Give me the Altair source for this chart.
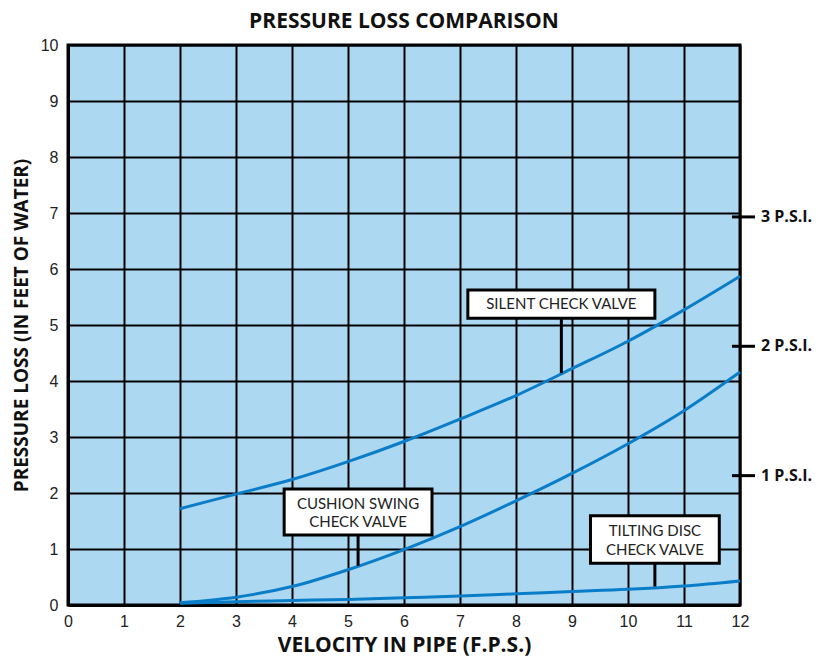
import altair as alt
import pandas as pd

# ---- data ----
velocity = [2, 3, 4, 5, 6, 7, 8, 9, 10, 11, 12]
silent = [1.72, 1.98, 2.24, 2.56, 2.92, 3.32, 3.74, 4.22, 4.71, 5.27, 5.87]
cushion = [0.04, 0.14, 0.33, 0.63, 0.99, 1.40, 1.86, 2.35, 2.88, 3.47, 4.16]
tilting = [0.03, 0.06, 0.08, 0.10, 0.13, 0.16, 0.20, 0.24, 0.28, 0.34, 0.43]

x_ticks = list(range(0, 13))
y_ticks = list(range(0, 11))

psi_values = [2.31, 4.62, 6.93]
psi_labels = ["1 P.S.I.", "2 P.S.I.", "3 P.S.I."]

# annotation boxes (data units)
box_x1 = [7.14, 3.86, 9.33]
box_x2 = [10.48, 6.50, 11.63]
box_y1 = [5.12, 1.25, 0.745]
box_y2 = [5.625, 2.07, 1.595]
lead_x = [8.81, 5.18, 10.48]
lead_y1 = [5.12, 1.25, 0.745]
lead_y2 = [4.14, 0.70, 0.33]

# annotation text lines
line_text = ["SILENT CHECK VALVE", "CUSHION SWING", "CHECK VALVE", "TILTING DISC", "CHECK VALVE"]
line_x = [8.81, 5.18, 5.18, 10.48, 10.48]
line_y = [5.37, 1.81, 1.49, 1.32, 0.99]

BG = "#ADD8F2"
LINE = "#0A7DC8"
TITLE_FONT = "Open Sans"

rows = []
for name, ys in [("Silent", silent), ("Cushion", cushion), ("Tilting", tilting)]:
    for v, p in zip(velocity, ys):
        rows.append({"series": name, "v": v, "p": p})
lines_df = pd.DataFrame(rows)

box_df = pd.DataFrame({
    "bx1": box_x1, "bx2": box_x2, "by1": box_y1, "by2": box_y2,
    "lx": lead_x, "ly1": lead_y1, "ly2": lead_y2,
})
text_df = pd.DataFrame({"text": line_text, "x": line_x, "y": line_y})
psi_df = pd.DataFrame({"y": psi_values, "label": psi_labels})

xscale = alt.Scale(domain=[0, 12], nice=False, zero=False)
yscale = alt.Scale(domain=[0, 10], nice=False, zero=False)

common_axis = dict(grid=True, gridColor="black", gridWidth=2, gridOpacity=1, ticks=False,
                   labelFont="Liberation Sans", labelFontSize=16, labelColor="#222",
                   domainColor="black", domainWidth=3, format="d",
                   titleFont=TITLE_FONT, titleFontWeight="bold",
                   titleColor="#111", labelFlush=False, titleBaseline="alphabetic")

xaxis = alt.Axis(values=x_ticks, title="VELOCITY IN PIPE (F.P.S.)", labelPadding=8,
                 titleY=46, titleFontSize=21, **common_axis)
yaxis = alt.Axis(values=y_ticks, title="PRESSURE LOSS (IN FEET OF WATER)", labelPadding=10,
                 titleX=-41, titleY=280, titleAlign="center", titleAngle=-90,
                 titleFontSize=19, **common_axis)

curves = alt.Chart(lines_df).mark_line(color=LINE, strokeWidth=3, interpolate="monotone").encode(
    x=alt.X("v:Q", scale=xscale, axis=xaxis),
    y=alt.Y("p:Q", scale=yscale, axis=yaxis),
    detail="series:N",
)

leaders = alt.Chart(box_df).mark_rule(color="black", strokeWidth=3).encode(
    x="lx:Q", y="ly1:Q", y2="ly2:Q"
)

boxes = alt.Chart(box_df).mark_rect(fill="white", stroke="black", strokeWidth=3).encode(
    x="bx1:Q", x2="bx2:Q", y="by1:Q", y2="by2:Q"
)

texts = alt.Chart(text_df).mark_text(font="Lato", fontSize=15, color="#222",
                                     align="center", baseline="middle").encode(
    x="x:Q", y="y:Q", text="text:N"
)

psi_ticks = alt.Chart(psi_df).mark_rule(color="black", strokeWidth=3).encode(
    x=alt.value(664), x2=alt.value(687), y="y:Q"
)
psi_text = alt.Chart(psi_df).mark_text(font=TITLE_FONT, fontSize=16, fontWeight="bold",
                                       color="#111", align="left", baseline="middle").encode(
    x=alt.value(693), y="y:Q", text="label:N"
)

chart = alt.layer(curves, leaders, boxes, texts, psi_ticks, psi_text).properties(
    width=672, height=560,
    title=alt.TitleParams("PRESSURE LOSS COMPARISON", font=TITLE_FONT, fontSize=21,
                          fontWeight="bold", color="#111", offset=5),
    autosize=alt.AutoSizeParams(type="none"),
    padding={"left": 60, "top": 37, "right": 81, "bottom": 51},
).configure_view(fill=BG, stroke="black", strokeWidth=3)

chart.save("out.html", embed_options={"renderer": "svg", "actions": False})
